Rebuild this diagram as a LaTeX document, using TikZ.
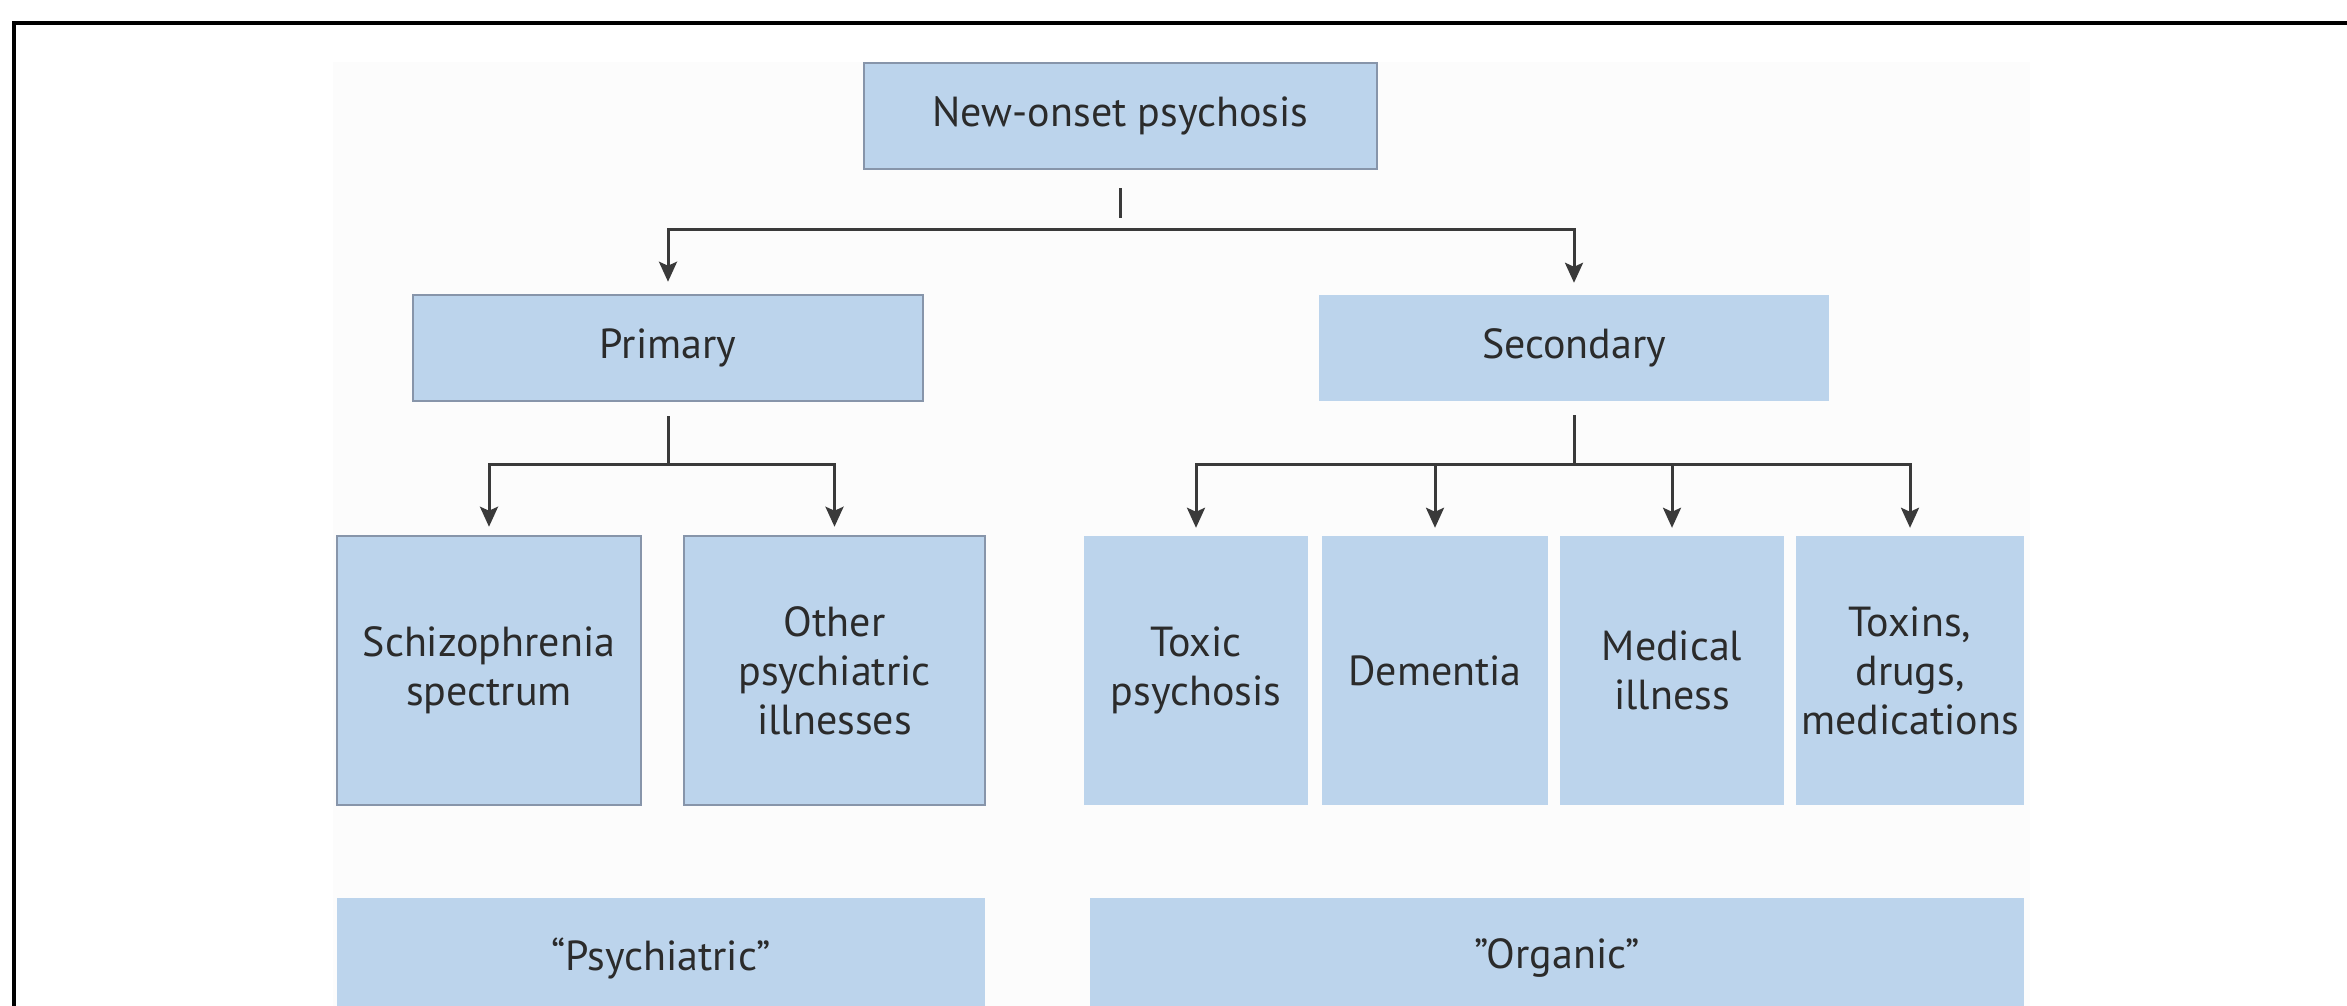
\documentclass[tikz,border=0pt]{standalone}
\usepackage{fontspec}
\setmainfont{PT Sans}
\usetikzlibrary{arrows.meta,calc}
\definecolor{boxfill}{HTML}{BCD4EC}
\definecolor{boxline}{HTML}{8795AA}
\definecolor{wirecol}{HTML}{3A3A3A}
\definecolor{ink}{HTML}{2B2B2B}
\definecolor{panel}{HTML}{FCFCFC}
\begin{document}
\begin{tikzpicture}[x=1pt,y=-1pt,
  box/.style={fill=boxfill, inner sep=0pt, text=ink, align=center,
    font=\fontsize{42}{49}\selectfont},
  framed/.style={box, draw=boxline, line width=2.5pt},
  wire/.style={draw=wirecol, line width=3pt},
  arr/.style={wire, -{Stealth[length=20pt,width=18pt,inset=4pt]}}]

% page area
\clip (0,0) rectangle (2347,1006);
\fill[white] (0,0) rectangle (2347,1006);
\fill[panel] (333,62) rectangle (2030,1006);
\draw[line width=4pt, black] (14,1010) -- (14,23) -- (2350,23);

% top level
\node[framed, minimum width=513pt, minimum height=106pt] (root) at (1120.5,116) {New-onset psychosis};

% second level
\node[framed, minimum width=510pt, minimum height=106pt] (primary) at (668,348) {Primary};
\node[box, minimum width=510pt, minimum height=106pt] (secondary) at (1574,348) {Secondary};

% third level
\node[framed, minimum width=304pt, minimum height=269pt] (schizo) at (489,670.5) {Schizophrenia\\spectrum};
\node[framed, minimum width=301pt, minimum height=269pt] (otherpsy) at (834.5,670.5) {Other\\psychiatric\\illnesses};
\node[box, minimum width=224pt, minimum height=269pt] (toxic) at (1196,670.5) {Toxic\\psychosis};
\node[box, minimum width=226pt, minimum height=269pt] (dementia) at (1435,670.5) {Dementia};
\node[box, minimum width=224pt, minimum height=269pt] (medical) at (1672,670.5) {Medical\\illness};
\node[box, minimum width=228pt, minimum height=269pt] (toxins) at (1910,670.5) {Toxins,\\drugs,\\medications};

% grouping bands
\node[box, minimum width=648pt, minimum height=120pt] (psyband) at (661,958) {“Psychiatric”};
\node[box, minimum width=934pt, minimum height=120pt] (orgband) at (1557,958) {”Organic”};

% connectors
\coordinate (rbar) at (1120.5,229);
\coordinate (pbar) at (668,464);
\coordinate (sbar) at (1574,464);

\draw[wire] ([yshift=-18pt]root.south) -- ([yshift=-48pt]root.south);
\draw[arr] (rbar) -| ([yshift=12pt]primary.north);
\draw[arr] (rbar) -| ([yshift=12pt]secondary.north);

\draw[wire] ([yshift=-14pt]primary.south) -- (pbar);
\draw[arr] (pbar) -| ([yshift=8pt]schizo.north);
\draw[arr] (pbar) -| ([yshift=8pt]otherpsy.north);

\draw[wire] ([yshift=-14pt]secondary.south) -- (sbar);
\draw[arr] (sbar) -| ([yshift=8pt]toxic.north);
\draw[arr] (sbar) -| ([yshift=8pt]dementia.north);
\draw[arr] (sbar) -| ([yshift=8pt]medical.north);
\draw[arr] (sbar) -| ([yshift=8pt]toxins.north);
\end{tikzpicture}
\end{document}
